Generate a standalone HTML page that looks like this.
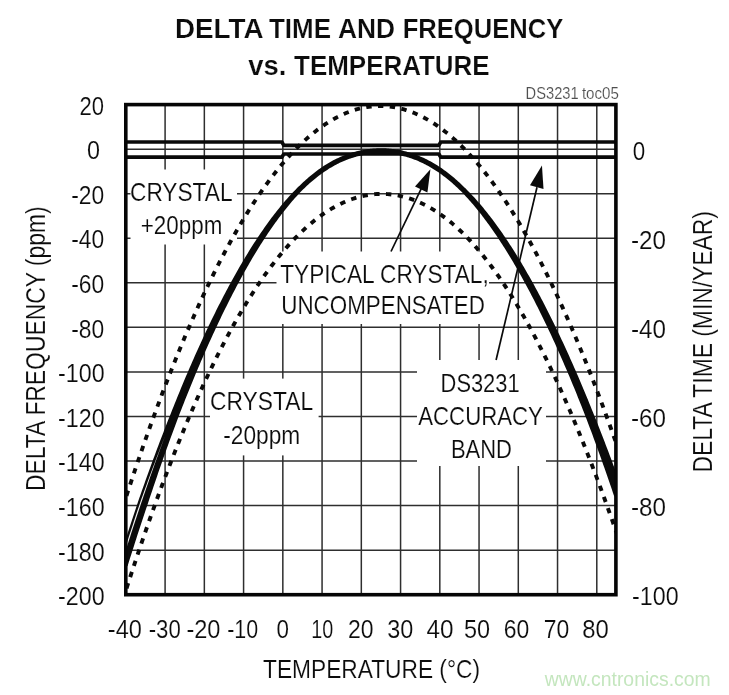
<!DOCTYPE html>
<html lang="en"><head><meta charset="utf-8"><title>Delta Time and Frequency vs. Temperature</title>
<style>html,body{margin:0;padding:0;background:#fff;}svg{display:block;filter:blur(0.4px);}text{font-family:'Liberation Sans', sans-serif;}</style></head><body>
<svg width="729" height="695" viewBox="0 0 729 695">
<rect x="0" y="0" width="729" height="695" fill="#ffffff"/>
<path d="M165.09 104.60 V594.70 M204.34 104.60 V594.70 M243.58 104.60 V594.70 M282.83 104.60 V594.70 M322.07 104.60 V594.70 M361.32 104.60 V594.70 M400.57 104.60 V594.70 M439.81 104.60 V594.70 M479.05 104.60 V594.70 M518.30 104.60 V594.70 M557.54 104.60 V594.70 M596.79 104.60 V594.70 M125.80 149.15 H615.90 M125.80 193.71 H615.90 M125.80 238.26 H615.90 M125.80 282.82 H615.90 M125.80 327.37 H615.90 M125.80 371.93 H615.90 M125.80 416.48 H615.90 M125.80 461.04 H615.90 M125.80 505.59 H615.90 M125.80 550.15 H615.90" stroke="#2e2e2e" stroke-width="1.5" fill="none"/>
<rect x="130.5" y="169.5" width="106.5" height="75.0" fill="#ffffff"/>
<rect x="276.5" y="251.5" width="212.5" height="72.5" fill="#ffffff"/>
<rect x="210.0" y="378.6" width="108.6" height="76.8" fill="#ffffff"/>
<rect x="417.0" y="360.0" width="129.0" height="106.0" fill="#ffffff"/>
<path d="M125.80 142.00 H281.83 L283.83 145.40 H438.81 L440.81 142.00 H615.90 M125.80 157.20 H281.83 L283.83 154.00 H438.81 L440.81 157.20 H615.90" stroke="#0a0a0a" stroke-width="3.7" fill="none" stroke-linejoin="round"/>
<clipPath id="pc"><rect x="125.80" y="104.60" width="490.10" height="490.10"/></clipPath>
<g clip-path="url(#pc)" fill="none" stroke="#0a0a0a">
<path d="M122.80 507.19 L124.87 500.77 L126.93 494.40 L129.00 488.09 L131.07 481.82 L133.14 475.61 L135.20 469.45 L137.27 463.34 L139.34 457.28 L141.40 451.27 L143.47 445.32 L145.54 439.42 L147.60 433.57 L149.67 427.77 L151.74 422.02 L153.81 416.33 L155.87 410.68 L157.94 405.09 L160.01 399.55 L162.07 394.06 L164.14 388.63 L166.21 383.24 L168.28 377.91 L170.34 372.63 L172.41 367.40 L174.48 362.22 L176.54 357.10 L178.61 352.02 L180.68 347.00 L182.75 342.03 L184.81 337.11 L186.88 332.24 L188.95 327.43 L191.01 322.67 L193.08 317.96 L195.15 313.30 L197.21 308.69 L199.28 304.13 L201.35 299.63 L203.42 295.18 L205.48 290.78 L207.55 286.43 L209.62 282.13 L211.68 277.88 L213.75 273.69 L215.82 269.55 L217.89 265.46 L219.95 261.42 L222.02 257.44 L224.09 253.50 L226.15 249.62 L228.22 245.79 L230.29 242.01 L232.36 238.28 L234.42 234.60 L236.49 230.98 L238.56 227.41 L240.62 223.89 L242.69 220.42 L244.76 217.00 L246.82 213.64 L248.89 210.33 L250.96 207.06 L253.03 203.86 L255.09 200.70 L257.16 197.59 L259.23 194.54 L261.29 191.54 L263.36 188.58 L265.43 185.69 L267.50 182.84 L269.56 180.04 L271.63 177.30 L273.70 174.61 L275.76 171.97 L277.83 169.38 L279.90 166.84 L281.97 164.36 L284.03 161.93 L286.10 159.55 L288.17 157.22 L290.23 154.94 L292.30 152.71 L294.37 150.54 L296.43 148.42 L298.50 146.35 L300.57 144.33 L302.64 142.36 L304.70 140.45 L306.77 138.59 L308.84 136.77 L310.90 135.02 L312.97 133.31 L315.04 131.65 L317.11 130.05 L319.17 128.50 L321.24 126.99 L323.31 125.55 L325.37 124.15 L327.44 122.80 L329.51 121.51 L331.58 120.27 L333.64 119.08 L335.71 117.94 L337.78 116.86 L339.84 115.82 L341.91 114.84 L343.98 113.91 L346.04 113.03 L348.11 112.20 L350.18 111.43 L352.25 110.70 L354.31 110.03 L356.38 109.41 L358.45 108.84 L360.51 108.32 L362.58 107.86 L364.65 107.45 L366.72 107.09 L368.78 106.78 L370.85 106.52 L372.92 106.31 L374.98 106.16 L377.05 106.06 L379.12 106.01 L381.19 106.01 L383.25 106.06 L385.32 106.16 L387.39 106.32 L389.45 106.53 L391.52 106.79 L393.59 107.10 L395.65 107.46 L397.72 107.88 L399.79 108.35 L401.86 108.86 L403.92 109.43 L405.99 110.06 L408.06 110.73 L410.12 111.45 L412.19 112.23 L414.26 113.06 L416.33 113.94 L418.39 114.87 L420.46 115.86 L422.53 116.89 L424.59 117.98 L426.66 119.12 L428.73 120.31 L430.80 121.55 L432.86 122.84 L434.93 124.19 L437.00 125.59 L439.06 127.03 L441.13 128.53 L443.20 130.09 L445.26 131.69 L447.33 133.35 L449.40 135.05 L451.47 136.81 L453.53 138.62 L455.60 140.49 L457.67 142.40 L459.73 144.37 L461.80 146.38 L463.87 148.45 L465.94 150.58 L468.00 152.75 L470.07 154.97 L472.14 157.25 L474.20 159.58 L476.27 161.96 L478.34 164.39 L480.41 166.87 L482.47 169.40 L484.54 171.99 L486.61 174.63 L488.67 177.32 L490.74 180.06 L492.81 182.85 L494.88 185.70 L496.94 188.60 L499.01 191.54 L501.08 194.54 L503.14 197.59 L505.21 200.70 L507.28 203.85 L509.34 207.06 L511.41 210.32 L513.48 213.63 L515.55 216.99 L517.61 220.40 L519.68 223.87 L521.75 227.39 L523.81 230.96 L525.88 234.58 L527.95 238.25 L530.02 241.97 L532.08 245.75 L534.15 249.57 L536.22 253.45 L538.28 257.38 L540.35 261.37 L542.42 265.40 L544.49 269.49 L546.55 273.62 L548.62 277.81 L550.69 282.05 L552.75 286.35 L554.82 290.69 L556.89 295.09 L558.95 299.53 L561.02 304.03 L563.09 308.58 L565.16 313.19 L567.22 317.84 L569.29 322.55 L571.36 327.30 L573.42 332.11 L575.49 336.98 L577.56 341.89 L579.63 346.85 L581.69 351.87 L583.76 356.94 L585.83 362.06 L587.89 367.23 L589.96 372.45 L592.03 377.73 L594.09 383.05 L596.16 388.43 L598.23 393.86 L600.30 399.34 L602.36 404.88 L604.43 410.46 L606.50 416.10 L608.56 421.79 L610.63 427.53 L612.70 433.32 L614.77 439.16 L616.83 445.06 L618.90 451.00" stroke-width="3.9" stroke-dasharray="5.4 6.4" stroke-dashoffset="11.66"/>
<path d="M122.80 600.17 L124.87 593.65 L126.93 587.19 L129.00 580.78 L131.07 574.41 L133.14 568.10 L135.20 561.85 L137.27 555.64 L139.34 549.49 L141.40 543.39 L143.47 537.34 L145.54 531.34 L147.60 525.40 L149.67 519.51 L151.74 513.67 L153.81 507.88 L155.87 502.15 L157.94 496.46 L160.01 490.83 L162.07 485.26 L164.14 479.73 L166.21 474.26 L168.28 468.84 L170.34 463.48 L172.41 458.16 L174.48 452.90 L176.54 447.70 L178.61 442.54 L180.68 437.44 L182.75 432.39 L184.81 427.40 L186.88 422.45 L188.95 417.57 L191.01 412.73 L193.08 407.95 L195.15 403.22 L197.21 398.54 L199.28 393.92 L201.35 389.35 L203.42 384.83 L205.48 380.37 L207.55 375.96 L209.62 371.60 L211.68 367.30 L213.75 363.05 L215.82 358.85 L217.89 354.71 L219.95 350.62 L222.02 346.59 L224.09 342.61 L226.15 338.68 L228.22 334.80 L230.29 330.98 L232.36 327.21 L234.42 323.50 L236.49 319.84 L238.56 316.23 L240.62 312.68 L242.69 309.18 L244.76 305.73 L246.82 302.34 L248.89 299.00 L250.96 295.71 L253.03 292.48 L255.09 289.30 L257.16 286.17 L259.23 283.10 L261.29 280.08 L263.36 277.12 L265.43 274.20 L267.50 271.34 L269.56 268.54 L271.63 265.78 L273.70 263.08 L275.76 260.43 L277.83 257.84 L279.90 255.29 L281.97 252.80 L284.03 250.37 L286.10 247.98 L288.17 245.65 L290.23 243.37 L292.30 241.14 L294.37 238.97 L296.43 236.85 L298.50 234.78 L300.57 232.76 L302.64 230.79 L304.70 228.88 L306.77 227.02 L308.84 225.20 L310.90 223.45 L312.97 221.74 L315.04 220.08 L317.11 218.48 L319.17 216.92 L321.24 215.42 L323.31 213.97 L325.37 212.57 L327.44 211.23 L329.51 209.93 L331.58 208.68 L333.64 207.49 L335.71 206.34 L337.78 205.25 L339.84 204.21 L341.91 203.21 L343.98 202.27 L346.04 201.38 L348.11 200.54 L350.18 199.75 L352.25 199.01 L354.31 198.32 L356.38 197.68 L358.45 197.09 L360.51 196.55 L362.58 196.06 L364.65 195.62 L366.72 195.23 L368.78 194.89 L370.85 194.60 L372.92 194.36 L374.98 194.17 L377.05 194.03 L379.12 193.94 L381.19 193.90 L383.25 193.91 L385.32 193.97 L387.39 194.08 L389.45 194.25 L391.52 194.46 L393.59 194.72 L395.65 195.03 L397.72 195.40 L399.79 195.81 L401.86 196.28 L403.92 196.79 L405.99 197.36 L408.06 197.97 L410.12 198.64 L412.19 199.36 L414.26 200.13 L416.33 200.95 L418.39 201.83 L420.46 202.75 L422.53 203.73 L424.59 204.75 L426.66 205.83 L428.73 206.96 L430.80 208.15 L432.86 209.38 L434.93 210.67 L437.00 212.01 L439.06 213.40 L441.13 214.84 L443.20 216.34 L445.26 217.89 L447.33 219.49 L449.40 221.14 L451.47 222.85 L453.53 224.61 L455.60 226.42 L457.67 228.29 L459.73 230.21 L461.80 232.19 L463.87 234.21 L465.94 236.29 L468.00 238.43 L470.07 240.62 L472.14 242.86 L474.20 245.16 L476.27 247.51 L478.34 249.91 L480.41 252.37 L482.47 254.88 L484.54 257.45 L486.61 260.07 L488.67 262.75 L490.74 265.48 L492.81 268.26 L494.88 271.10 L496.94 273.99 L499.01 276.94 L501.08 279.94 L503.14 283.00 L505.21 286.11 L507.28 289.27 L509.34 292.49 L511.41 295.77 L513.48 299.09 L515.55 302.48 L517.61 305.91 L519.68 309.40 L521.75 312.95 L523.81 316.55 L525.88 320.20 L527.95 323.90 L530.02 327.66 L532.08 331.48 L534.15 335.35 L536.22 339.27 L538.28 343.25 L540.35 347.28 L542.42 351.36 L544.49 355.50 L546.55 359.69 L548.62 363.93 L550.69 368.23 L552.75 372.58 L554.82 376.98 L556.89 381.44 L558.95 385.95 L561.02 390.51 L563.09 395.13 L565.16 399.80 L567.22 404.52 L569.29 409.30 L571.36 414.13 L573.42 419.01 L575.49 423.94 L577.56 428.93 L579.63 433.97 L581.69 439.06 L583.76 444.20 L585.83 449.40 L587.89 454.65 L589.96 459.95 L592.03 465.31 L594.09 470.71 L596.16 476.17 L598.23 481.68 L600.30 487.25 L602.36 492.86 L604.43 498.53 L606.50 504.25 L608.56 510.02 L610.63 515.85 L612.70 521.72 L614.77 527.65 L616.83 533.63 L618.90 539.67" stroke-width="3.9" stroke-dasharray="5.4 6.4" stroke-dashoffset="11.19"/>
<path d="M118.08 563.32 L119.32 559.35 L120.56 555.39 L121.80 551.46 L123.04 547.54 L124.29 543.64 L125.53 539.76 L126.77 535.90 L128.01 532.06 L129.26 528.23 L130.50 524.43 L131.74 520.65 L132.98 516.88 L134.23 513.13 L135.47 509.41 L136.71 505.70 L137.95 502.01 L139.22 498.34 L140.49 494.70 L141.76 491.08 L143.03 487.47 L144.30 483.89 L145.57 480.32 L146.84 476.77 L148.12 473.24 L149.39 469.74 L150.66 466.24 L151.93 462.77 L153.20 459.32 L154.47 455.89 L155.74 452.47 L157.01 449.08 L158.29 445.70 L159.56 442.34 L160.83 439.00 L162.10 435.68 L163.37 432.38 L164.64 429.10 L165.91 425.84 L167.18 422.59 L168.45 419.37 L169.73 416.16 L170.99 412.97 L172.24 409.79 L173.50 406.64 L174.76 403.50 L176.02 400.38 L177.28 397.28 L178.53 394.20 L179.79 391.14 L181.05 388.09 L182.31 385.07 L183.56 382.06 L184.82 379.07 L186.08 376.10 L187.34 373.15 L188.59 370.22 L189.85 367.30 L191.11 364.41 L192.37 361.53 L193.63 358.67 L194.88 355.83 L196.14 353.01 L197.40 350.21 L198.66 347.42 L199.92 344.66 L201.17 341.91 L202.43 339.18 L203.69 336.47 L204.95 333.78 L206.21 331.10 L207.47 328.45 L208.72 325.81 L209.98 323.19 L211.24 320.59 L212.50 318.01 L213.76 315.44 L215.02 312.90 L216.27 310.37 L217.53 307.86 L218.79 305.37 L220.05 302.90 L221.31 300.44 L222.57 298.01 L223.83 295.59 L225.09 293.19 L226.34 290.81 L227.60 288.45 L228.86 286.10 L230.12 283.78 L231.38 281.47 L232.64 279.18 L233.90 276.91 L235.16 274.66 L236.42 272.42 L237.67 270.21 L238.93 268.01 L240.19 265.83 L241.45 263.68 L242.71 261.53 L243.97 259.41 L245.23 257.31 L246.49 255.23 L247.75 253.16 L249.01 251.12 L250.27 249.09 L251.53 247.08 L252.79 245.09 L254.05 243.12 L255.31 241.17 L256.57 239.24 L257.83 237.33 L259.09 235.44 L260.35 233.56 L261.61 231.71 L262.88 229.88 L264.14 228.07 L265.40 226.28 L266.67 224.50 L267.93 222.75 L269.19 221.02 L270.46 219.31 L271.72 217.61 L272.99 215.94 L274.25 214.29 L275.52 212.66 L276.78 211.05 L278.05 209.46 L279.31 207.89 L280.58 206.34 L281.84 204.81 L283.11 203.30 L284.37 201.82 L285.64 200.35 L286.90 198.91 L288.17 197.48 L289.44 196.08 L290.71 194.70 L291.97 193.34 L293.24 192.00 L294.51 190.69 L295.77 189.39 L297.04 188.12 L298.31 186.87 L299.58 185.63 L300.83 184.41 L302.09 183.21 L303.35 182.03 L304.61 180.88 L305.87 179.74 L307.13 178.63 L308.39 177.54 L309.65 176.46 L310.91 175.42 L312.17 174.39 L313.43 173.38 L314.69 172.39 L315.96 171.43 L317.22 170.49 L318.48 169.56 L319.75 168.66 L321.01 167.78 L322.28 166.92 L323.54 166.09 L324.81 165.27 L326.08 164.47 L327.34 163.70 L328.61 162.94 L329.88 162.21 L331.15 161.49 L332.42 160.80 L333.69 160.12 L334.96 159.47 L336.23 158.83 L337.50 158.22 L338.77 157.63 L340.04 157.05 L341.31 156.50 L342.58 155.96 L343.85 155.44 L345.12 154.95 L346.39 154.47 L347.67 154.01 L348.94 153.56 L350.21 153.14 L351.48 152.74 L352.76 152.35 L354.03 151.98 L355.30 151.63 L356.57 151.30 L357.85 150.99 L359.12 150.69 L360.39 150.41 L361.67 150.15 L362.94 149.90 L364.21 149.68 L365.49 149.47 L366.76 149.27 L368.03 149.10 L369.31 148.94 L370.58 148.80 L371.85 148.67 L373.13 148.56 L374.40 148.47 L375.67 148.39 L376.95 148.33 L378.22 148.29 L379.49 148.26 L380.77 148.25 L382.04 148.25 L383.31 148.28 L384.59 148.31 L385.86 148.37 L387.13 148.44 L388.41 148.53 L389.68 148.63 L390.96 148.76 L392.23 148.90 L393.50 149.05 L394.78 149.22 L396.05 149.41 L397.32 149.62 L398.60 149.85 L399.87 150.09 L401.15 150.35 L402.42 150.62 L403.69 150.92 L404.96 151.23 L406.24 151.56 L407.51 151.91 L408.78 152.27 L410.06 152.66 L411.33 153.06 L412.60 153.48 L413.87 153.92 L415.14 154.37 L416.42 154.85 L417.69 155.34 L418.96 155.85 L420.23 156.38 L421.50 156.93 L422.77 157.50 L424.04 158.09 L425.31 158.70 L426.58 159.32 L427.85 159.97 L429.11 160.63 L430.38 161.32 L431.65 162.02 L432.92 162.75 L434.18 163.49 L435.45 164.25 L436.72 165.04 L437.98 165.84 L439.25 166.66 L440.51 167.51 L441.78 168.37 L443.04 169.25 L444.30 170.16 L445.57 171.08 L446.83 172.03 L448.09 172.99 L449.35 173.98 L450.61 174.98 L451.87 176.01 L453.13 177.06 L454.39 178.12 L455.65 179.21 L456.91 180.32 L458.17 181.45 L459.43 182.60 L460.69 183.77 L461.94 184.96 L463.20 186.16 L464.47 187.38 L465.74 188.62 L467.01 189.88 L468.27 191.16 L469.54 192.46 L470.81 193.79 L472.08 195.13 L473.34 196.49 L474.61 197.87 L475.87 199.28 L477.14 200.70 L478.41 202.14 L479.67 203.61 L480.94 205.09 L482.20 206.60 L483.47 208.12 L484.73 209.66 L486.00 211.23 L487.26 212.81 L488.53 214.41 L489.79 216.04 L491.06 217.68 L492.32 219.34 L493.58 221.02 L494.85 222.73 L496.11 224.45 L497.37 226.19 L498.64 227.95 L499.90 229.72 L501.16 231.52 L502.43 233.34 L503.69 235.18 L504.95 237.03 L506.21 238.91 L507.47 240.80 L508.73 242.71 L509.99 244.65 L511.25 246.60 L512.51 248.57 L513.77 250.55 L515.03 252.56 L516.29 254.58 L517.55 256.63 L518.81 258.69 L520.07 260.77 L521.33 262.87 L522.59 264.99 L523.84 267.12 L525.10 269.28 L526.36 271.45 L527.62 273.64 L528.88 275.85 L530.14 278.07 L531.40 280.32 L532.66 282.58 L533.92 284.86 L535.18 287.16 L536.43 289.48 L537.69 291.81 L538.95 294.17 L540.21 296.54 L541.47 298.93 L542.73 301.34 L543.99 303.76 L545.25 306.21 L546.51 308.67 L547.76 311.15 L549.02 313.65 L550.28 316.17 L551.54 318.70 L552.80 321.25 L554.06 323.82 L555.32 326.41 L556.57 329.02 L557.83 331.65 L559.09 334.29 L560.35 336.95 L561.61 339.63 L562.87 342.33 L564.12 345.04 L565.38 347.78 L566.64 350.53 L567.90 353.30 L569.16 356.09 L570.41 358.90 L571.67 361.72 L572.93 364.57 L574.19 367.43 L575.45 370.31 L576.70 373.21 L577.96 376.12 L579.22 379.06 L580.48 382.01 L581.74 384.98 L582.99 387.97 L584.25 390.98 L585.51 394.01 L586.77 397.05 L588.02 400.12 L589.28 403.20 L590.54 406.30 L591.80 409.42 L593.07 412.55 L594.34 415.70 L595.61 418.87 L596.88 422.05 L598.15 425.26 L599.42 428.48 L600.69 431.73 L601.97 434.99 L603.24 438.27 L604.51 441.57 L605.78 444.88 L607.05 448.22 L608.32 451.57 L609.59 454.95 L610.86 458.34 L612.14 461.75 L613.41 465.17 L614.68 468.62 L615.95 472.09 L617.22 475.57 L618.49 479.07 L619.76 482.60 L621.03 486.14 L622.31 489.70 L623.57 493.27 L614.23 496.51 L613.01 492.92 L611.81 489.36 L610.60 485.81 L609.39 482.29 L608.18 478.78 L606.97 475.29 L605.76 471.82 L604.55 468.37 L603.34 464.93 L602.13 461.52 L600.92 458.12 L599.71 454.74 L598.50 451.39 L597.29 448.04 L596.08 444.72 L594.88 441.42 L593.67 438.13 L592.46 434.87 L591.25 431.62 L590.04 428.39 L588.83 425.18 L587.62 421.98 L586.41 418.81 L585.20 415.65 L583.99 412.51 L582.77 409.40 L581.55 406.30 L580.32 403.23 L579.10 400.17 L577.88 397.13 L576.65 394.11 L575.43 391.10 L574.21 388.12 L572.99 385.15 L571.76 382.20 L570.54 379.27 L569.32 376.36 L568.09 373.47 L566.87 370.59 L565.65 367.73 L564.43 364.90 L563.20 362.08 L561.98 359.27 L560.76 356.49 L559.54 353.72 L558.31 350.98 L557.09 348.25 L555.87 345.54 L554.65 342.84 L553.43 340.17 L552.20 337.51 L550.98 334.87 L549.76 332.25 L548.54 329.65 L547.32 327.07 L546.09 324.50 L544.87 321.96 L543.65 319.43 L542.43 316.92 L541.21 314.42 L539.98 311.95 L538.76 309.49 L537.54 307.05 L536.32 304.63 L535.10 302.23 L533.88 299.84 L532.65 297.48 L531.43 295.13 L530.21 292.80 L528.99 290.49 L527.77 288.20 L526.55 285.92 L525.33 283.66 L524.10 281.43 L522.88 279.21 L521.66 277.00 L520.44 274.82 L519.22 272.66 L518.00 270.51 L516.77 268.38 L515.55 266.27 L514.33 264.18 L513.11 262.11 L511.89 260.05 L510.67 258.02 L509.45 256.00 L508.23 254.00 L507.01 252.02 L505.78 250.06 L504.56 248.12 L503.34 246.20 L502.12 244.29 L500.90 242.41 L499.68 240.54 L498.46 238.69 L497.24 236.86 L496.03 235.05 L494.81 233.26 L493.59 231.49 L492.38 229.74 L491.16 228.00 L489.94 226.29 L488.72 224.59 L487.51 222.92 L486.29 221.26 L485.08 219.63 L483.86 218.01 L482.64 216.41 L481.43 214.84 L480.21 213.28 L479.00 211.74 L477.78 210.23 L476.57 208.73 L475.35 207.25 L474.14 205.80 L472.92 204.36 L471.71 202.94 L470.49 201.55 L469.28 200.17 L468.06 198.82 L466.85 197.48 L465.64 196.17 L464.42 194.87 L463.21 193.60 L462.00 192.34 L460.78 191.11 L459.57 189.90 L458.35 188.71 L457.13 187.55 L455.91 186.41 L454.68 185.30 L453.46 184.20 L452.24 183.12 L451.02 182.06 L449.80 181.03 L448.58 180.01 L447.36 179.02 L446.14 178.04 L444.92 177.09 L443.70 176.16 L442.48 175.24 L441.27 174.35 L440.05 173.48 L438.83 172.62 L437.62 171.79 L436.40 170.98 L435.18 170.19 L433.97 169.41 L432.76 168.66 L431.54 167.93 L430.33 167.21 L429.11 166.52 L427.90 165.84 L426.69 165.19 L425.48 164.55 L424.26 163.93 L423.05 163.33 L421.84 162.75 L420.63 162.19 L419.42 161.64 L418.21 161.12 L417.00 160.61 L415.79 160.12 L414.58 159.65 L413.37 159.20 L412.16 158.76 L410.96 158.35 L409.75 157.95 L408.54 157.56 L407.33 157.20 L406.12 156.85 L404.92 156.52 L403.71 156.20 L402.50 155.91 L401.29 155.63 L400.09 155.36 L398.88 155.11 L397.67 154.88 L396.47 154.67 L395.26 154.47 L394.05 154.29 L392.85 154.12 L391.64 153.97 L390.43 153.84 L389.23 153.72 L388.02 153.62 L386.81 153.54 L385.60 153.47 L384.40 153.42 L383.19 153.38 L381.98 153.36 L380.78 153.35 L379.57 153.36 L378.36 153.39 L377.16 153.43 L375.95 153.49 L374.74 153.56 L373.53 153.65 L372.33 153.76 L371.12 153.88 L369.91 154.02 L368.71 154.17 L367.50 154.34 L366.29 154.52 L365.08 154.72 L363.88 154.94 L362.67 155.17 L361.46 155.42 L360.25 155.69 L359.05 155.97 L357.84 156.27 L356.63 156.59 L355.42 156.92 L354.22 157.27 L353.01 157.64 L351.80 158.03 L350.59 158.43 L349.39 158.85 L348.18 159.29 L346.97 159.75 L345.76 160.22 L344.55 160.71 L343.34 161.23 L342.13 161.76 L340.92 162.30 L339.71 162.87 L338.50 163.46 L337.29 164.07 L336.08 164.69 L334.87 165.34 L333.66 166.00 L332.44 166.69 L331.23 167.39 L330.02 168.12 L328.80 168.86 L327.59 169.63 L326.38 170.41 L325.16 171.22 L323.95 172.04 L322.73 172.89 L321.51 173.76 L320.30 174.65 L319.08 175.56 L317.86 176.49 L316.65 177.45 L315.43 178.42 L314.21 179.42 L312.99 180.43 L311.77 181.47 L310.55 182.53 L309.33 183.61 L308.11 184.72 L306.88 185.84 L305.66 186.99 L304.44 188.16 L303.22 189.35 L302.00 190.56 L300.79 191.81 L299.58 193.07 L298.36 194.36 L297.15 195.67 L295.94 197.00 L294.72 198.35 L293.51 199.72 L292.30 201.12 L291.08 202.53 L289.87 203.97 L288.65 205.42 L287.44 206.90 L286.22 208.40 L285.01 209.92 L283.79 211.46 L282.58 213.02 L281.36 214.61 L280.15 216.21 L278.93 217.83 L277.72 219.48 L276.50 221.14 L275.28 222.83 L274.07 224.53 L272.85 226.26 L271.63 228.00 L270.42 229.77 L269.20 231.56 L267.98 233.36 L266.76 235.19 L265.55 237.03 L264.33 238.90 L263.11 240.78 L261.89 242.68 L260.67 244.61 L259.45 246.55 L258.23 248.51 L257.01 250.49 L255.79 252.49 L254.57 254.51 L253.34 256.55 L252.12 258.60 L250.90 260.68 L249.68 262.77 L248.46 264.89 L247.24 267.02 L246.02 269.17 L244.79 271.34 L243.57 273.53 L242.35 275.74 L241.13 277.97 L239.91 280.21 L238.69 282.47 L237.46 284.76 L236.24 287.06 L235.02 289.38 L233.80 291.72 L232.58 294.07 L231.36 296.45 L230.14 298.84 L228.91 301.25 L227.69 303.68 L226.47 306.13 L225.25 308.60 L224.03 311.08 L222.80 313.59 L221.58 316.11 L220.36 318.65 L219.14 321.21 L217.92 323.79 L216.69 326.38 L215.47 329.00 L214.25 331.63 L213.03 334.28 L211.81 336.95 L210.58 339.64 L209.36 342.34 L208.14 345.07 L206.92 347.81 L205.69 350.57 L204.47 353.35 L203.25 356.15 L202.03 358.96 L200.80 361.80 L199.58 364.65 L198.36 367.53 L197.14 370.42 L195.91 373.33 L194.69 376.25 L193.47 379.20 L192.25 382.16 L191.02 385.15 L189.80 388.15 L188.58 391.17 L187.35 394.21 L186.13 397.27 L184.91 400.34 L183.69 403.44 L182.46 406.55 L181.24 409.69 L180.02 412.84 L178.79 416.01 L177.57 419.20 L176.37 422.41 L175.16 425.64 L173.95 428.90 L172.74 432.16 L171.53 435.45 L170.32 438.76 L169.11 442.09 L167.90 445.43 L166.69 448.79 L165.48 452.18 L164.27 455.58 L163.06 459.00 L161.85 462.44 L160.64 465.89 L159.44 469.37 L158.23 472.87 L157.02 476.38 L155.81 479.91 L154.60 483.47 L153.39 487.04 L152.18 490.63 L150.97 494.24 L149.76 497.86 L148.55 501.51 L147.33 505.17 L146.10 508.85 L144.86 512.54 L143.62 516.26 L142.38 519.99 L141.14 523.74 L139.91 527.51 L138.67 531.30 L137.43 535.11 L136.19 538.94 L134.95 542.79 L133.72 546.65 L132.48 550.54 L131.24 554.44 L130.00 558.37 L128.76 562.31 L127.52 566.27 Z" fill="#0a0a0a" stroke="none"/>
<path d="M120.22 563.99 L121.46 560.02 L122.71 556.07 L123.95 552.13 L125.19 548.22 L126.43 544.32 L127.67 540.45 L128.91 536.59 L130.15 532.75 L131.40 528.93 L132.64 525.13 L133.88 521.35 L135.12 517.59 L136.36 513.84 L137.60 510.12 L138.84 506.41 L140.09 502.73 L141.37 499.07 L142.67 495.44 L143.97 491.83 L145.27 488.24 L146.57 484.67 L147.87 481.12 L149.16 477.59 L150.46 474.07 L151.76 470.58 L153.06 467.10 L154.36 463.64 L155.66 460.21 L156.96 456.79 L158.26 453.39 L159.56 450.01 L160.85 446.65 L162.15 443.30 L163.45 439.98 L164.75 436.68 L164.79 436.69 L163.55 440.02 L162.31 443.36 L161.07 446.72 L159.83 450.11 L158.59 453.51 L157.34 456.93 L156.10 460.37 L154.86 463.82 L153.62 467.30 L152.38 470.80 L151.14 474.31 L149.90 477.85 L148.66 481.40 L147.42 484.97 L146.18 488.56 L144.94 492.17 L143.70 495.80 L142.46 499.44 L141.22 503.11 L139.98 506.80 L138.74 510.50 L137.50 514.22 L136.26 517.96 L135.02 521.72 L133.78 525.50 L132.54 529.30 L131.30 533.12 L130.05 536.96 L128.81 540.81 L127.57 544.69 L126.33 548.58 L125.09 552.50 L123.85 556.43 L122.61 560.38 L121.37 564.35 Z" fill="#efefef" stroke="none"/>
</g>
<path d="M391.0 251.5 L421.5 188.2" stroke="#0a0a0a" stroke-width="1.7" fill="none"/>
<path d="M430.4 169.2 L415.0 186.5 L427.4 192.6 Z" fill="#0a0a0a"/>
<path d="M496.1 360 L537.0 187.2" stroke="#0a0a0a" stroke-width="1.7" fill="none"/>
<path d="M541.95 165.4 L530.0 185.2 L543.5 189.1 Z" fill="#0a0a0a"/>
<rect x="125.80" y="104.60" width="490.10" height="490.10" fill="none" stroke="#050505" stroke-width="3.6"/>
<text id="t1" y="37.60" font-size="26.80" fill="#0c0c0c" font-weight="bold" stroke="#ffffff" stroke-width="0.2"><tspan x="174.90" textLength="87.55" lengthAdjust="spacingAndGlyphs">DELTA</tspan> <tspan x="269.00" textLength="62.02" lengthAdjust="spacingAndGlyphs">TIME</tspan> <tspan x="338.00" textLength="57.08" lengthAdjust="spacingAndGlyphs">AND</tspan> <tspan x="402.70" textLength="160.53" lengthAdjust="spacingAndGlyphs">FREQUENCY</tspan></text>
<text id="t2" y="75.00" font-size="26.80" fill="#0c0c0c" font-weight="bold" stroke="#ffffff" stroke-width="0.2"><tspan x="248.20" textLength="38.13" lengthAdjust="spacingAndGlyphs">vs.</tspan> <tspan x="294.10" textLength="195.50" lengthAdjust="spacingAndGlyphs">TEMPERATURE</tspan></text>
<text id="toc" y="98.70" font-size="16.20" fill="#4f4f4f" stroke="#ffffff" stroke-width="0.15"><tspan x="525.60" textLength="53.04" lengthAdjust="spacingAndGlyphs">DS3231</tspan> <tspan x="581.90" textLength="36.97" lengthAdjust="spacingAndGlyphs">toc05</tspan></text>
<text id="xl" x="263.00" y="678.10" font-size="25.90" textLength="217.00" lengthAdjust="spacingAndGlyphs" fill="#0c0c0c" stroke="#ffffff" stroke-width="0.15">TEMPERATURE (°C)</text>
<text id="a1" x="130.00" y="201.00" font-size="25.90" textLength="102.51" lengthAdjust="spacingAndGlyphs" fill="#0c0c0c" stroke="#ffffff" stroke-width="0.15">CRYSTAL</text>
<text id="a2" x="140.80" y="234.00" font-size="25.90" textLength="81.52" lengthAdjust="spacingAndGlyphs" fill="#0c0c0c" stroke="#ffffff" stroke-width="0.15">+20ppm</text>
<text id="b1" x="280.20" y="282.80" font-size="25.90" textLength="208.50" lengthAdjust="spacingAndGlyphs" fill="#0c0c0c" stroke="#ffffff" stroke-width="0.15">TYPICAL CRYSTAL,</text>
<text id="b2" x="281.30" y="314.10" font-size="25.90" textLength="203.51" lengthAdjust="spacingAndGlyphs" fill="#0c0c0c" stroke="#ffffff" stroke-width="0.15">UNCOMPENSATED</text>
<text id="c1" x="210.10" y="409.70" font-size="25.90" textLength="103.00" lengthAdjust="spacingAndGlyphs" fill="#0c0c0c" stroke="#ffffff" stroke-width="0.15">CRYSTAL</text>
<text id="c2" x="223.20" y="443.70" font-size="25.90" textLength="77.02" lengthAdjust="spacingAndGlyphs" fill="#0c0c0c" stroke="#ffffff" stroke-width="0.15">-20ppm</text>
<text id="d1" x="440.60" y="391.70" font-size="25.90" textLength="79.01" lengthAdjust="spacingAndGlyphs" fill="#0c0c0c" stroke="#ffffff" stroke-width="0.15">DS3231</text>
<text id="d2" x="418.30" y="424.60" font-size="25.90" textLength="124.51" lengthAdjust="spacingAndGlyphs" fill="#0c0c0c" stroke="#ffffff" stroke-width="0.15">ACCURACY</text>
<text id="d3" x="450.90" y="457.60" font-size="25.90" textLength="61.03" lengthAdjust="spacingAndGlyphs" fill="#0c0c0c" stroke="#ffffff" stroke-width="0.15">BAND</text>
<text id="wm" x="544.70" y="686.00" font-size="19.30" textLength="166.00" lengthAdjust="spacingAndGlyphs" fill="#c4e6be">www.cntronics.com</text>
<text id="ly0" x="79.60" y="114.60" font-size="25.30" textLength="24.52" lengthAdjust="spacingAndGlyphs" fill="#0c0c0c" stroke="#ffffff" stroke-width="0.15">20</text>
<text id="ly1" x="86.90" y="159.19" font-size="25.30" textLength="13.00" lengthAdjust="spacingAndGlyphs" fill="#0c0c0c" stroke="#ffffff" stroke-width="0.15">0</text>
<text id="ly2" x="71.20" y="203.78" font-size="25.30" textLength="32.98" lengthAdjust="spacingAndGlyphs" fill="#0c0c0c" stroke="#ffffff" stroke-width="0.15">-20</text>
<text id="ly3" x="71.20" y="248.37" font-size="25.30" textLength="32.98" lengthAdjust="spacingAndGlyphs" fill="#0c0c0c" stroke="#ffffff" stroke-width="0.15">-40</text>
<text id="ly4" x="71.20" y="292.96" font-size="25.30" textLength="32.98" lengthAdjust="spacingAndGlyphs" fill="#0c0c0c" stroke="#ffffff" stroke-width="0.15">-60</text>
<text id="ly5" x="71.20" y="337.55" font-size="25.30" textLength="32.98" lengthAdjust="spacingAndGlyphs" fill="#0c0c0c" stroke="#ffffff" stroke-width="0.15">-80</text>
<text id="ly6" x="58.10" y="382.14" font-size="25.30" textLength="46.52" lengthAdjust="spacingAndGlyphs" fill="#0c0c0c" stroke="#ffffff" stroke-width="0.15">-100</text>
<text id="ly7" x="58.10" y="426.73" font-size="25.30" textLength="46.52" lengthAdjust="spacingAndGlyphs" fill="#0c0c0c" stroke="#ffffff" stroke-width="0.15">-120</text>
<text id="ly8" x="58.10" y="471.32" font-size="25.30" textLength="46.52" lengthAdjust="spacingAndGlyphs" fill="#0c0c0c" stroke="#ffffff" stroke-width="0.15">-140</text>
<text id="ly9" x="58.10" y="515.91" font-size="25.30" textLength="46.52" lengthAdjust="spacingAndGlyphs" fill="#0c0c0c" stroke="#ffffff" stroke-width="0.15">-160</text>
<text id="ly10" x="58.10" y="560.50" font-size="25.30" textLength="46.52" lengthAdjust="spacingAndGlyphs" fill="#0c0c0c" stroke="#ffffff" stroke-width="0.15">-180</text>
<text id="ly11" x="58.10" y="605.09" font-size="25.30" textLength="46.52" lengthAdjust="spacingAndGlyphs" fill="#0c0c0c" stroke="#ffffff" stroke-width="0.15">-200</text>
<text id="ry0" x="632.70" y="160.00" font-size="25.30" textLength="12.45" lengthAdjust="spacingAndGlyphs" fill="#0c0c0c" stroke="#ffffff" stroke-width="0.15">0</text>
<text id="ry1" x="631.00" y="248.90" font-size="25.30" textLength="35.00" lengthAdjust="spacingAndGlyphs" fill="#0c0c0c" stroke="#ffffff" stroke-width="0.15">-20</text>
<text id="ry2" x="631.00" y="337.80" font-size="25.30" textLength="35.00" lengthAdjust="spacingAndGlyphs" fill="#0c0c0c" stroke="#ffffff" stroke-width="0.15">-40</text>
<text id="ry3" x="631.00" y="426.70" font-size="25.30" textLength="35.00" lengthAdjust="spacingAndGlyphs" fill="#0c0c0c" stroke="#ffffff" stroke-width="0.15">-60</text>
<text id="ry4" x="631.00" y="515.60" font-size="25.30" textLength="35.00" lengthAdjust="spacingAndGlyphs" fill="#0c0c0c" stroke="#ffffff" stroke-width="0.15">-80</text>
<text id="ry5" x="632.10" y="604.50" font-size="25.30" textLength="46.49" lengthAdjust="spacingAndGlyphs" fill="#0c0c0c" stroke="#ffffff" stroke-width="0.15">-100</text>
<text id="xx0" x="107.80" y="637.50" font-size="25.30" textLength="34.09" lengthAdjust="spacingAndGlyphs" fill="#0c0c0c" stroke="#ffffff" stroke-width="0.15">-40</text>
<text id="xx1" x="148.70" y="637.50" font-size="25.30" textLength="32.09" lengthAdjust="spacingAndGlyphs" fill="#0c0c0c" stroke="#ffffff" stroke-width="0.15">-30</text>
<text id="xx2" x="186.40" y="637.50" font-size="25.30" textLength="34.10" lengthAdjust="spacingAndGlyphs" fill="#0c0c0c" stroke="#ffffff" stroke-width="0.15">-20</text>
<text id="xx3" x="227.20" y="637.50" font-size="25.30" textLength="30.98" lengthAdjust="spacingAndGlyphs" fill="#0c0c0c" stroke="#ffffff" stroke-width="0.15">-10</text>
<text id="xx4" x="276.45" y="637.50" font-size="25.30" textLength="12.45" lengthAdjust="spacingAndGlyphs" fill="#0c0c0c" stroke="#ffffff" stroke-width="0.15">0</text>
<text id="xx5" x="311.30" y="637.50" font-size="25.30" textLength="21.99" lengthAdjust="spacingAndGlyphs" fill="#0c0c0c" stroke="#ffffff" stroke-width="0.15">10</text>
<text id="xx6" x="348.05" y="637.50" font-size="25.30" textLength="25.52" lengthAdjust="spacingAndGlyphs" fill="#0c0c0c" stroke="#ffffff" stroke-width="0.15">20</text>
<text id="xx7" x="387.20" y="637.50" font-size="25.30" textLength="26.06" lengthAdjust="spacingAndGlyphs" fill="#0c0c0c" stroke="#ffffff" stroke-width="0.15">30</text>
<text id="xx8" x="426.50" y="637.50" font-size="25.30" textLength="27.04" lengthAdjust="spacingAndGlyphs" fill="#0c0c0c" stroke="#ffffff" stroke-width="0.15">40</text>
<text id="xx9" x="463.90" y="637.50" font-size="25.30" textLength="26.09" lengthAdjust="spacingAndGlyphs" fill="#0c0c0c" stroke="#ffffff" stroke-width="0.15">50</text>
<text id="xx10" x="503.75" y="637.50" font-size="25.30" textLength="25.52" lengthAdjust="spacingAndGlyphs" fill="#0c0c0c" stroke="#ffffff" stroke-width="0.15">60</text>
<text id="xx11" x="543.75" y="637.50" font-size="25.30" textLength="25.52" lengthAdjust="spacingAndGlyphs" fill="#0c0c0c" stroke="#ffffff" stroke-width="0.15">70</text>
<text id="xx12" x="582.25" y="637.50" font-size="25.30" textLength="26.52" lengthAdjust="spacingAndGlyphs" fill="#0c0c0c" stroke="#ffffff" stroke-width="0.15">80</text>
<text id="rl" transform="translate(44.50 488.30) rotate(-90)" x="-2.70" y="0" font-size="26.96" textLength="284.53" lengthAdjust="spacingAndGlyphs" fill="#0c0c0c" stroke="#ffffff" stroke-width="0.15">DELTA FREQUENCY (ppm)</text>
<text id="rr" transform="translate(711.50 470.80) rotate(-90)" x="-1.80" y="0" font-size="26.81" textLength="261.51" lengthAdjust="spacingAndGlyphs" fill="#0c0c0c" stroke="#ffffff" stroke-width="0.15">DELTA TIME (MIN/YEAR)</text>
</svg></body></html>
